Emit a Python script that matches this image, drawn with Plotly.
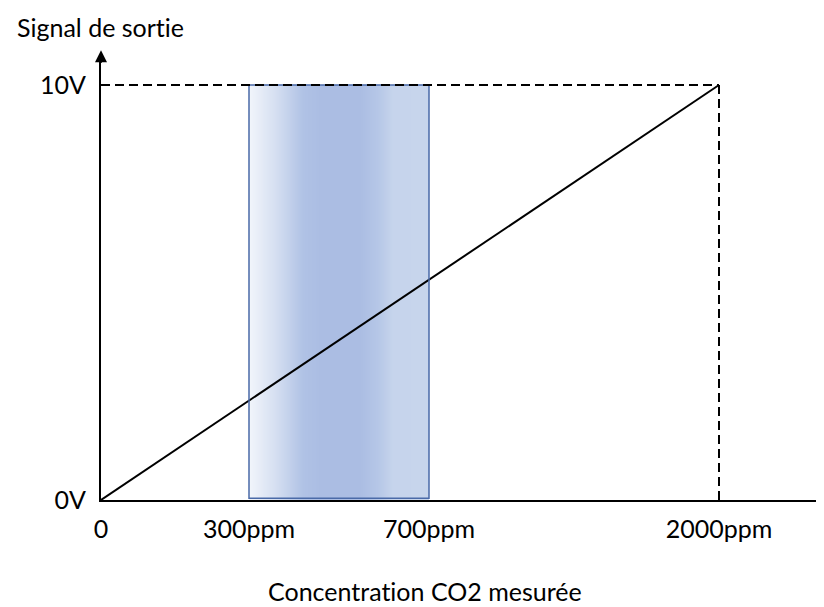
import numpy as np
import plotly.graph_objects as go

# schematic axis: tick positions along the (non-linear) concentration axis
x_labels = ["0", "300ppm", "700ppm", "2000ppm"]
x_pos = [0, 148, 328, 618]
y_labels = ["0V", "10V"]
y_vals = [0, 10]

x_title = "Concentrat\u200cion CO2 mesurée"
y_title = "Signal de sort\u200cie"

# gradient stops for the highlighted band (fraction across band, colour)
band_stops = [
    [0.0, "#f2f5fb"],
    [0.15, "#d5dff1"],
    [0.3, "#b0c2e5"],
    [0.4, "#abbde3"],
    [0.62, "#abbde3"],
    [0.72, "#b6c7e7"],
    [0.8, "#c6d4ec"],
    [1.0, "#c7d5ec"],
]

FONT = "Lato"
FS = 25
W, H = 816, 599
L, T, B = 93, 50, 107
PPV = 41.5  # pixels per volt

fig = go.Figure()

# gradient band between 300ppm and 700ppm
n = 180
edges = np.linspace(x_pos[1], x_pos[2], n + 1)
frac = (np.arange(n) + 0.5) / n
fig.add_trace(go.Heatmap(
    x=edges, y=[y_vals[0], y_vals[1]], z=[frac],
    colorscale=band_stops, zmin=0, zmax=1, showscale=False,
    hoverinfo="skip",
))

# response line
fig.add_trace(go.Scatter(
    x=[x_pos[0], x_pos[3]], y=[y_vals[0], y_vals[1]],
    mode="lines", line=dict(color="black", width=2), hoverinfo="skip",
))

shapes = [
    dict(type="rect", xref="x", yref="y", x0=x_pos[1], x1=x_pos[2],
         y0=y_vals[0] + 0.04, y1=y_vals[1], line=dict(color="#4a6aa8", width=1.5)),
    dict(type="line", xref="x", yref="y", x0=x_pos[0], x1=x_pos[3],
         y0=y_vals[1], y1=y_vals[1], line=dict(color="black", width=2, dash="9px,5px")),
    dict(type="line", xref="x", yref="y", x0=x_pos[3], x1=x_pos[3],
         y0=y_vals[0], y1=y_vals[1], line=dict(color="black", width=2, dash="9px,5px")),
]

plot_h = H - T - B
plot_w = W - L
annotations = [
    dict(x=0, y=10.84, xref="x", yref="y", ax=0, ay=10.5, axref="x", ayref="y",
         showarrow=True, arrowhead=2, arrowsize=1.2, arrowwidth=2, arrowcolor="black", text=""),
    dict(x=-1 / plot_w, y=1 + (T - 19) / plot_h, xref="paper", yref="paper", text=y_title,
         showarrow=False, yanchor="middle", xanchor="center",
         font=dict(family=FONT, size=FS, color="black")),
    dict(x=324 / plot_w, y=-(91 / plot_h), xref="paper", yref="paper", text=x_title,
         showarrow=False, yanchor="middle", xanchor="center",
         font=dict(family=FONT, size=FS, color="black")),
]

fig.update_layout(
    width=W, height=H,
    margin=dict(l=L, r=0, t=T, b=B),
    paper_bgcolor="white", plot_bgcolor="white",
    showlegend=False,
    shapes=shapes,
    annotations=annotations,
    xaxis=dict(range=[0, plot_w], tickvals=x_pos, ticktext=x_labels, showgrid=False,
               zeroline=False, showline=True, linecolor="black", linewidth=2,
               ticks="", ticklabelstandoff=6,
               tickfont=dict(family=FONT, size=FS, color="black")),
    yaxis=dict(range=[0, plot_h / PPV], tickvals=y_vals, ticktext=y_labels,
               showgrid=False, zeroline=False, showline=True, linecolor="black",
               linewidth=2, ticks="", ticklabelstandoff=8,
               tickfont=dict(family=FONT, size=FS, color="black")),
)

fig.write_html("out.html")
